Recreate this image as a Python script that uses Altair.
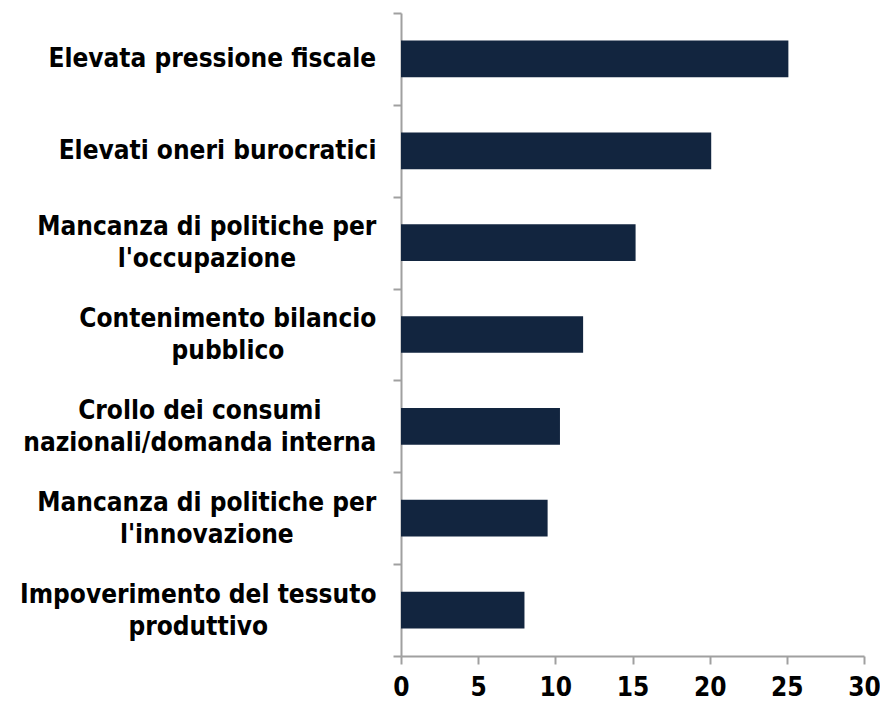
import json
import altair as alt
import pandas as pd

# ---- data ----
categories = [
    "Elevata pressione fiscale",
    "Elevati oneri burocratici",
    "Mancanza di politiche per|l'occupazione",
    "Contenimento bilancio|pubblico",
    "Crollo dei consumi|nazionali/domanda interna",
    "Mancanza di politiche per|l'innovazione",
    "Impoverimento del tessuto|produttivo",
]
values = [25.1, 20.1, 15.2, 11.8, 10.3, 9.5, 8.0]
x_ticks = [0, 5, 10, 15, 20, 25, 30]

df = pd.DataFrame({"category": categories, "value": values})

# ---- label layout: centre each multi-line label block, right edge near the ticks ----
FONT = "DejaVu Sans Condensed"
FSIZE = 26
LINE_H = 32
# approximate DejaVu Sans Bold advance widths (em); condensed ~0.9
W = {" ": .348, "'": .332, "/": .365, "a": .675, "b": .716, "c": .593, "d": .716,
     "e": .678, "f": .435, "g": .716, "h": .712, "i": .343, "l": .343, "m": 1.042,
     "n": .712, "o": .687, "p": .716, "r": .493, "s": .595, "t": .478, "u": .712,
     "v": .652, "z": .582, "C": .734, "E": .683, "I": .372, "M": .995}


def text_width(s):
    return sum(W.get(ch, .68) for ch in s) * 0.9 * FSIZE


BASE_PAD = 17
pad_conds = []
off_conds = []
for c in categories:
    lines = c.split("|")
    w = max(text_width(line) for line in lines)
    test = f"datum.value === {json.dumps(c)}"
    pad_conds.append({"test": test, "value": BASE_PAD + w / 2})
    off_conds.append({"test": test, "value": -(len(lines) - 1) * LINE_H / 2})

AXIS_COLOR = "#a0a0a0"

chart = (
    alt.Chart(df)
    .mark_bar(color="#12253f", height={"band": 0.4})
    .encode(
        x=alt.X(
            "value:Q",
            scale=alt.Scale(domain=[0, 30], nice=False),
            axis=alt.Axis(
                values=x_ticks,
                title=None,
                grid=False,
                tickSize=8,
                tickWidth=2,
                tickColor=AXIS_COLOR,
                domainColor=AXIS_COLOR,
                domainWidth=2,
                labelFont=FONT,
                labelFontSize=FSIZE,
                labelFontWeight="bold",
                labelColor="black",
                labelPadding=10,
                labelFlush=False,
            ),
        ),
        y=alt.Y(
            "category:N",
            sort=categories,
            scale=alt.Scale(paddingInner=0, paddingOuter=0),
            axis=alt.Axis(
                title=None,
                labelExpr="split(datum.label, '|')",
                labelAlign="center",
                labelBaseline="middle",
                labelPadding={"condition": pad_conds, "value": BASE_PAD},
                labelOffset={"condition": off_conds, "value": 0},
                labelLineHeight=LINE_H,
                labelFont=FONT,
                labelFontSize=FSIZE,
                labelFontWeight="bold",
                labelColor="black",
                labelLimit=1000,
                tickBand="extent",
                tickSize=8,
                tickWidth=2,
                tickColor=AXIS_COLOR,
                domainColor=AXIS_COLOR,
                domainWidth=2,
            ),
        ),
    )
    .properties(
        width=463,
        height=643,
        autosize=alt.AutoSizeParams(type="none"),
        padding={"left": 393, "top": 5, "right": 16, "bottom": 46},
        background="white",
    )
    .configure_view(stroke=None)
)

chart.save("out.html", embed_options={"renderer": "svg", "actions": False})
